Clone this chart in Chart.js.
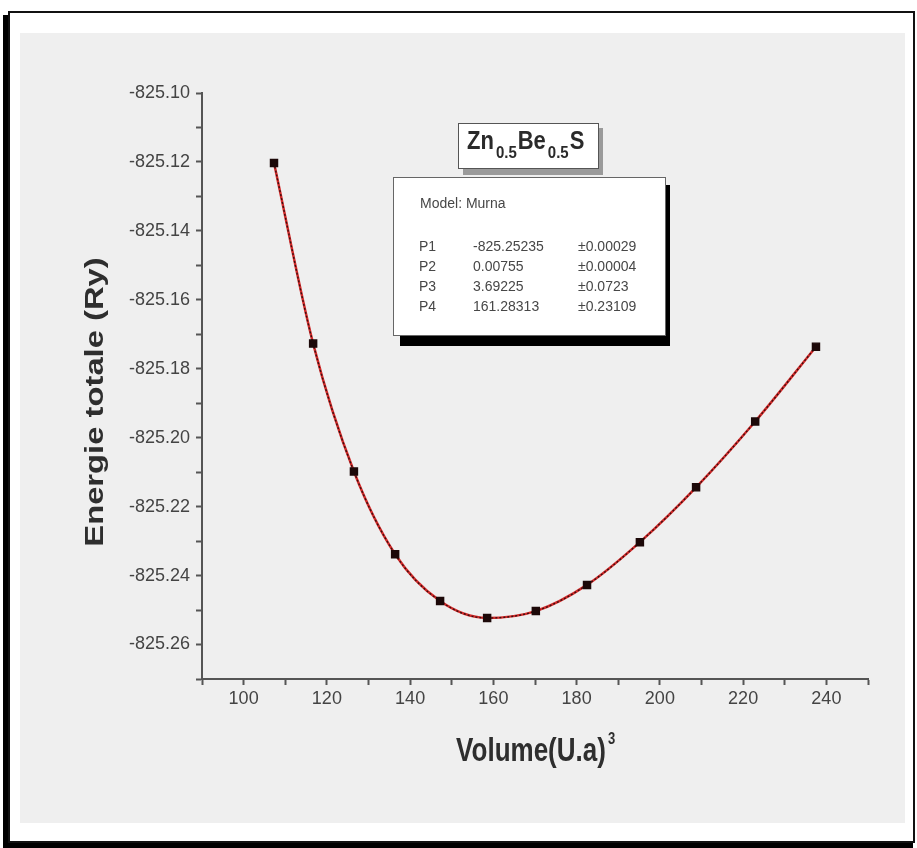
<!DOCTYPE html>
<html>
<head>
<meta charset="utf-8">
<script src="https://cdn.jsdelivr.net/npm/chart.js@4/dist/chart.umd.min.js"></script>
<style>
  html, body { margin: 0; padding: 0; background: #ffffff; }
  canvas { display: block; }
</style>
</head>
<body>
<canvas id="c" width="917" height="848"></canvas>
<script>
// Volume (U.a)^3 and total energy (Ry) of Zn0.5Be0.5S
const volumes = [107.3, 116.7, 126.5, 136.4, 147.2, 158.5, 170.2, 182.5, 195.2, 208.7, 222.9, 237.5];
const energies = [-825.1203, -825.1727, -825.2098, -825.2338, -825.2474, -825.2523,
                  -825.2503, -825.2427, -825.2303, -825.2144, -825.1953, -825.1736];

// Murnaghan fit parameters shown in the results box
const fitModel = 'Model: Murna';
const fitNames = ['P1', 'P2', 'P3', 'P4'];
const fitValues = ['-825.25235', '0.00755', '3.69225', '161.28313'];
const fitErrors = ['\u00b10.00029', '\u00b10.00004', '\u00b10.0723', '\u00b10.23109'];

const xTitle = 'Volume(U.a)';
const xTitleSup = '3';
const yTitle = 'Energie totale (Ry)';

const xMin = 90, xMax = 250;
const yMin = -825.27, yMax = -825.10;

const FONT = '"Liberation Sans", Arial, sans-serif';
const TALL = 1.26; // glyphs of the axis titles are drawn taller than wide

const points = volumes.map((v, i) => ({ x: v, y: energies[i] }));

// frame, panel, axis titles and annotation boxes
const decor = {
  id: 'decor',
  beforeDraw(chart) {
    const ctx = chart.ctx;
    ctx.save();
    ctx.fillStyle = '#ffffff';
    ctx.fillRect(0, 0, chart.width, chart.height);
    // shadow of the outer frame
    ctx.fillStyle = '#000000';
    ctx.fillRect(3, 15, 910, 833);
    // outer frame
    ctx.fillStyle = '#ffffff';
    ctx.fillRect(9, 11, 905, 831);
    ctx.strokeStyle = '#111111';
    ctx.lineWidth = 2;
    ctx.strokeRect(9, 12, 905, 830);
    // inner panel
    ctx.fillStyle = '#efefef';
    ctx.fillRect(20, 33, 885, 790);
    ctx.restore();
  },
  afterDraw(chart) {
    const ctx = chart.ctx;
    const area = chart.chartArea;
    ctx.save();
    ctx.fillStyle = '#2e2e2e';
    ctx.textAlign = 'center';
    ctx.textBaseline = 'middle';
    ctx.font = 'bold 26px ' + FONT;
    // x axis title
    const xc = (area.left + area.right) / 2 - 4;
    ctx.save();
    ctx.translate(xc, 752);
    ctx.scale(1, TALL);
    ctx.fillText(xTitle, 0, 0);
    const w = ctx.measureText(xTitle).width;
    ctx.font = 'bold 13px ' + FONT;
    ctx.textAlign = 'left';
    ctx.fillText(xTitleSup, w / 2 + 2, -10);
    ctx.restore();
    // y axis title
    ctx.font = 'bold 26px ' + FONT;
    ctx.textAlign = 'center';
    ctx.save();
    ctx.translate(96, 402);
    ctx.rotate(-Math.PI / 2);
    ctx.scale(TALL, 1);
    ctx.fillText(yTitle, 0, 0);
    ctx.restore();

    // compound label box
    ctx.textAlign = 'left';
    ctx.fillStyle = '#9a9a9a';
    ctx.fillRect(463, 128, 140, 47);
    ctx.fillStyle = '#ffffff';
    ctx.fillRect(458, 123, 141, 46);
    ctx.strokeStyle = '#555555';
    ctx.lineWidth = 1;
    ctx.strokeRect(458.5, 123.5, 140, 45);
    ctx.fillStyle = '#2a2a2a';
    let x = 467;
    const base = 149;
    const big = 'bold 22px ' + FONT, small = 'bold 15px ' + FONT;
    const parts = [['Zn', big, 0], ['0.5', small, 9], ['Be', big, 0], ['0.5', small, 9], ['S', big, 0]];
    ctx.textBaseline = 'alphabetic';
    for (const [t, f, dy] of parts) {
      ctx.font = f;
      ctx.save();
      ctx.translate(x, base + dy);
      ctx.scale(1, 1.15);
      ctx.fillText(t, 0, 0);
      ctx.restore();
      x += ctx.measureText(t).width + (dy ? 1 : 2);
    }
    // fit results box
    ctx.fillStyle = '#000000';
    ctx.fillRect(400, 185, 270, 161);
    ctx.fillStyle = '#ffffff';
    ctx.fillRect(393, 177, 272, 158);
    ctx.strokeStyle = '#666666';
    ctx.strokeRect(393.5, 177.5, 272, 158);
    ctx.fillStyle = '#474747';
    ctx.font = '14px ' + FONT;
    ctx.textBaseline = 'middle';
    ctx.fillText(fitModel, 420, 204);
    const rows = [247, 267, 287, 307];
    fitNames.forEach((n, i) => {
      ctx.fillText(n, 419, rows[i]);
      ctx.fillText(fitValues[i], 473, rows[i]);
      ctx.fillText(fitErrors[i], 578, rows[i]);
    });
    ctx.restore();
  }
};

new Chart(document.getElementById('c'), {
  type: 'scatter',
  data: {
    datasets: [
      {
        label: 'fit',
        data: points,
        showLine: true,
        borderColor: '#d42a2a',
        borderWidth: 2.5,
        pointRadius: 0,
        cubicInterpolationMode: 'monotone',
        order: 2
      },
      {
        label: 'data',
        data: points,
        showLine: true,
        borderColor: '#3a1010',
        borderWidth: 1.4,
        borderDash: [2, 2],
        pointStyle: 'rect',
        pointRadius: 5,
        pointBackgroundColor: '#1c0808',
        pointBorderColor: '#1c0808',
        cubicInterpolationMode: 'monotone',
        order: 1
      }
    ]
  },
  options: {
    responsive: false,
    animation: false,
    devicePixelRatio: 1,
    layout: { padding: { left: 78, right: 49, top: 93, bottom: 74 } },
    plugins: {
      legend: { display: false },
      tooltip: { enabled: false }
    },
    scales: {
      x: {
        type: 'linear',
        min: xMin,
        max: xMax,
        afterFit(s) { s.height = 95; },
        afterBuildTicks(s) {
          const t = [];
          for (let v = xMin; v <= xMax; v += 10) t.push({ value: v });
          s.ticks = t;
        },
        ticks: {
          autoSkip: false,
          maxRotation: 0,
          padding: 3,
          color: '#444444',
          font: { family: FONT, size: 18 },
          callback(v) { return (v % 20 === 0 && v >= 100 && v <= 240) ? String(v) : ''; }
        },
        grid: {
          drawOnChartArea: false,
          drawTicks: true,
          tickLength: 6,
          tickWidth: 2,
          tickColor: '#555555'
        },
        border: { color: '#555555', width: 2 },
        title: { display: false }
      },
      y: {
        type: 'linear',
        min: yMin,
        max: yMax,
        afterFit(s) { s.width = 124; },
        afterBuildTicks(s) {
          const t = [];
          for (let k = 0; k <= 17; k++) t.push({ value: Math.round((yMin + k * 0.01) * 100) / 100 });
          s.ticks = t;
        },
        ticks: {
          autoSkip: false,
          padding: 6,
          color: '#444444',
          font: { family: FONT, size: 18 },
          callback(v) {
            const h = Math.round(Math.abs(v) * 100);
            return h % 2 === 0 ? v.toFixed(2) : '';
          }
        },
        grid: {
          drawOnChartArea: false,
          drawTicks: true,
          tickLength: 6,
          tickWidth: 2,
          tickColor: '#555555'
        },
        border: { color: '#555555', width: 2 },
        title: { display: false }
      }
    }
  },
  plugins: [decor]
});
</script>
</body>
</html>
